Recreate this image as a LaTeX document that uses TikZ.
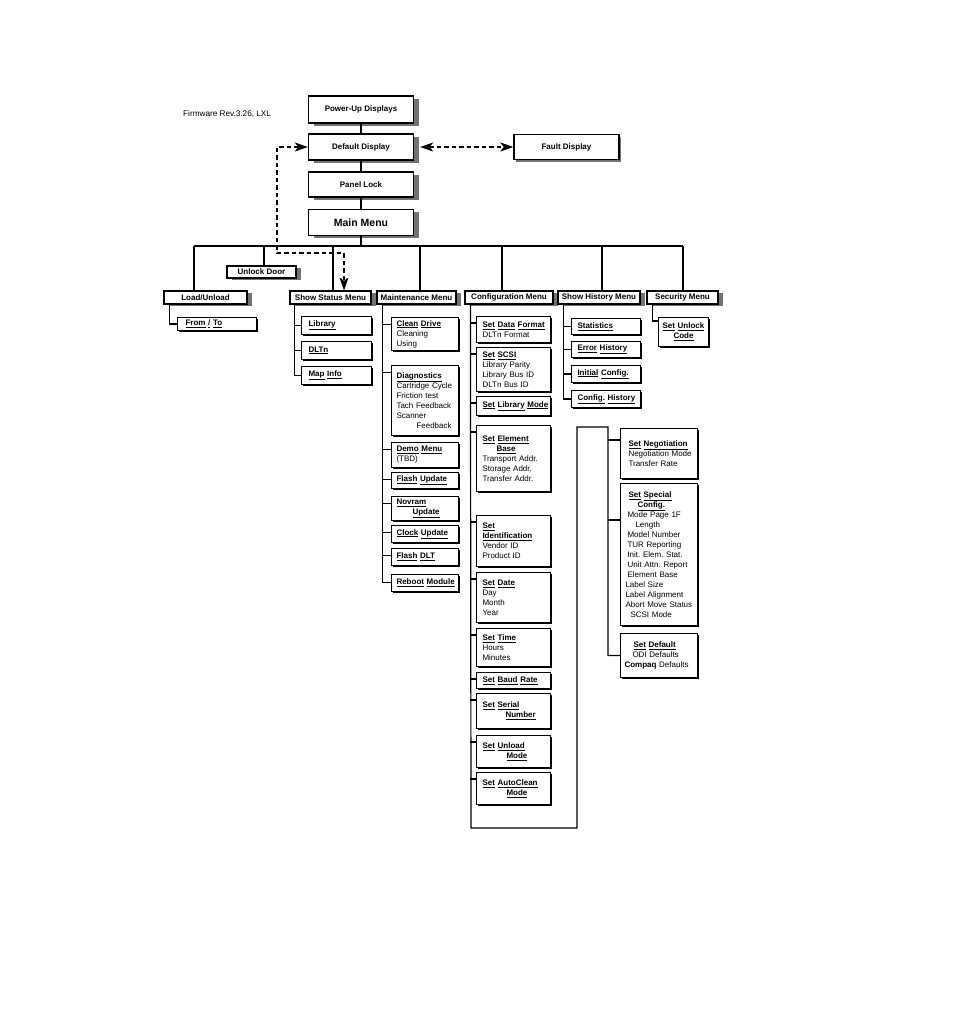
\documentclass[tikz,border=0pt]{standalone}
\usepackage{fontspec}
\setmainfont{Liberation Sans}
\usetikzlibrary{arrows.meta,shadows}
\newcommand{\bu}[1]{\underline{\textbf{#1}}}
\frenchspacing
\tikzset{
  conn/.style={line width=1.2pt},
  darrow/.style={line width=1.1pt, dash pattern=on 4.5pt off 3pt, {Stealth[length=13pt,width=9pt,inset=3.5pt]}-{Stealth[length=13pt,width=9pt,inset=3.5pt]}},
  bigshadow/.style={drop shadow={shadow xshift=5pt,shadow yshift=-2.5pt,fill=black!55,opacity=1}},
  hshadow/.style={drop shadow={shadow xshift=5pt,shadow yshift=-2pt,fill=black!55,opacity=1}},
  tinyshadow/.style={drop shadow={shadow xshift=1pt,shadow yshift=-1pt,fill=black,opacity=1}},
  mbox/.style={draw, fill=white, line width=1.4pt, font=\bfseries\fontsize{8}{9}\selectfont, minimum width=105pt, minimum height=26pt, inner sep=0pt},
  hbox/.style={draw, fill=white, line width=1.2pt, font=\bfseries\fontsize{8}{9}\selectfont, minimum height=13pt, inner sep=0pt, hshadow},
  sbox/.style={draw, fill=white, line width=1pt, font=\fontsize{8}{10}\selectfont, align=left, anchor=north west, inner ysep=0pt, tinyshadow},
  stcol/.style={sbox, text width=56pt, inner xsep=7pt},
  mcol/.style={sbox, text width=57pt, inner xsep=5pt},
  ccol/.style={sbox, text width=62pt, inner xsep=6pt},
  hcol/.style={sbox, text width=57pt, inner xsep=6pt},
  rcol/.style={sbox, text width=69pt, inner xsep=4pt}
}
\begin{document}
\begin{tikzpicture}[x=1pt,y=-1pt]
\useasboundingbox (0,0) rectangle (954,1010);

\node[anchor=west, font=\fontsize{8.2}{9}\selectfont, inner sep=0pt] (fw) at (183,114) {Firmware Rev.3.26, LXL};

% main column
\node[mbox, bigshadow, minimum height=27pt] (pwr) at (361,109.5) {Power-Up Displays};
\node[mbox, bigshadow] (def) at (361,147) {Default Display};
\node[mbox, bigshadow, minimum height=25pt] (panel) at (361,184.5) {Panel Lock};
\node[mbox, bigshadow, font=\bfseries\fontsize{10.5}{12}\selectfont] (mainm) at (361,222.5) {Main Menu};
\node[mbox, minimum width=105pt, minimum height=25pt, drop shadow={shadow xshift=1.5pt,shadow yshift=-2.5pt,fill=black!55,opacity=1}] (fault) at (566.5,147) {Fault Display};

\draw[conn] (pwr.south) -- (def.north);
\draw[conn] (def.south) -- (panel.north);
\draw[conn] (panel.south) -- (mainm.north);

% headers
\node[hbox, minimum width=83pt] (load) at (205.5,297.5) {Load/Unload};
\node[hbox, minimum width=69pt, minimum height=12pt] (unlock) at (261.5,272) {Unlock Door};
\node[hbox, minimum width=81pt] (status) at (330.5,297.5) {Show Status Menu};
\node[hbox, minimum width=79pt] (maint) at (416.5,297.5) {Maintenance Menu};
\node[hbox, minimum width=88pt] (config) at (509,297.5) {Configuration Menu};
\node[hbox, minimum width=82pt] (hist) at (599,297.5) {Show History Menu};
\node[hbox, minimum width=71pt] (secu) at (682.5,297.5) {Security Menu};

% bus
\coordinate (busL) at (194,246);
\coordinate (busR) at (683,246);
\draw[conn] (mainm.south) -- (mainm.south |- busL);
\draw[conn] (busL) -- (busR);
\foreach \x/\n in {194/load, 264/unlock, 333/status, 420/maint, 502/config, 602/hist, 683/secu}{
  \coordinate (tmp) at (\x,246);
  \draw[conn] (tmp) -- (tmp |- \n.north);
}

% dashed arrows
\coordinate (dl) at (277,253);
\draw[darrow] (def.west) -| (dl) -| ([xshift=13.5pt]status.north);
\draw[darrow] ([xshift=6pt]def.east) -- (fault.west);

% Load/Unload
\node[sbox, text width=63pt, inner xsep=8pt, minimum height=13pt] (fromto) at (177,317) {\bu{From} \bu{/} \bu{To}};
\draw[conn] ([xshift=6pt]load.south west) |- (fromto.west);

% Show Status
\node[stcol, minimum height=18pt] (lib) at (301,316) {\bu{Library}};
\node[stcol, minimum height=18pt] (dltn) at (301,341) {\bu{DLTn}};
\node[stcol, minimum height=18pt] (mapi) at (301,366) {\bu{Map}~\bu{Info}};
\coordinate (sv) at ([xshift=5pt]status.south west);
\draw[conn] (sv) |- (mapi.west);
\foreach \n in {lib,dltn}{\draw[conn] (sv |- \n.west) -- (\n.west);}

% Maintenance
\node[mcol, minimum height=33pt] (cln) at (391,317) {\bu{Clean}~\bu{Drive}\\Cleaning\\Using};
\node[mcol, minimum height=70pt] (diag) at (391,365) {\bu{Diagnostics}\\Cartridge~Cycle\\Friction~test\\Tach~Feedback\\Scanner\\\hspace*{20pt}Feedback};
\node[mcol, minimum height=25pt] (demo) at (391,442) {\bu{Demo}~\bu{Menu}\\(TBD)};
\node[mcol, minimum height=16pt] (flu) at (391,472) {\bu{Flash}~\bu{Update}};
\node[mcol, minimum height=24pt] (nov) at (391,496) {\bu{Novram}\\\hspace*{16pt}\bu{Update}};
\node[mcol, minimum height=17pt] (clk) at (391,525) {\bu{Clock}~\bu{Update}};
\node[mcol, minimum height=17pt] (fdlt) at (391,548) {\bu{Flash}~\bu{DLT}};
\node[mcol, minimum height=17pt] (reb) at (391,574) {\bu{Reboot}~\bu{Module}};
\coordinate (mv) at ([xshift=6pt]maint.south west);
\coordinate (mend) at ([yshift=-8.5pt]reb.north west);
\draw[conn] (mv) |- (mend);
\foreach \n in {cln,diag,demo,flu,nov,clk,fdlt}{
  \coordinate (tmp) at ([yshift=-7.5pt]\n.north west);
  \draw[conn] (mv |- tmp) -- (tmp);
}

% Configuration
\node[ccol, minimum height=26pt] (sdf) at (476,316) {\bu{Set}~\bu{Data}~\bu{Format}\\DLTn Format};
\node[ccol, minimum height=44pt] (scsi) at (476,347) {\bu{Set}~\bu{SCSI}\\Library Parity\\Library Bus ID\\DLTn Bus ID};
\node[ccol, minimum height=19pt] (libm) at (476,396) {\bu{Set}~\bu{Library}~\bu{Mode}};
\node[ccol, minimum height=66pt] (elem) at (476,425) {\bu{Set}~\bu{Element}\\\hspace*{14pt}\bu{Base}\\Transport Addr.\\Storage Addr.\\Transfer Addr.};
\node[ccol, minimum height=51pt] (ident) at (476,515) {\bu{Set}\\\bu{Identification}\\Vendor ID\\Product ID};
\node[ccol, minimum height=50pt] (date) at (476,572) {\bu{Set}~\bu{Date}\\Day\\Month\\Year};
\node[ccol, minimum height=38pt] (time) at (476,628) {\bu{Set}~\bu{Time}\\Hours\\Minutes};
\node[ccol, minimum height=16pt] (baud) at (476,672) {\bu{Set}~\bu{Baud}~\bu{Rate}};
\node[ccol, minimum height=35pt] (serial) at (476,693) {\bu{Set}~\bu{Serial}\\\hspace*{23pt}\bu{Number}};
\node[ccol, minimum height=32pt] (unl) at (476,735) {\bu{Set}~\bu{Unload}\\\hspace*{24pt}\bu{Mode}};
\node[ccol, minimum height=32pt] (acl) at (476,772) {\bu{Set}~\bu{AutoClean}\\\hspace*{24pt}\bu{Mode}};

% right sub column
\node[rcol, minimum height=50pt] (neg) at (620,428) {\hspace*{4pt}\bu{Set}~\bu{Negotiation}\\\hspace*{4pt}Negotiation Mode\\\hspace*{4pt}Transfer Rate};
\node[rcol, minimum height=142pt] (special) at (620,483) {\hspace*{4pt}\bu{Set}~\bu{Special}\\\hspace*{13pt}\bu{Config.}\\\hspace*{3pt}Mode Page 1F\\\hspace*{11pt}Length\\\hspace*{3pt}Model Number\\\hspace*{3pt}TUR Reporting\\\hspace*{3pt}Init. Elem. Stat.\\\hspace*{3pt}Unit Attn. Report\\\hspace*{3pt}Element Base\\\hspace*{1pt}Label Size\\\hspace*{1pt}Label Alignment\\\hspace*{1pt}Abort~Move~Status\\\hspace*{6pt}SCSI Mode};
\node[rcol, minimum height=44pt] (setdef) at (620,633) {\hspace*{9pt}\bu{Set}~\bu{Default}\\\hspace*{8pt}ODI Defaults\\\textbf{Compaq} Defaults};

\coordinate (cv) at ([xshift=6pt]config.south west);
\coordinate (cb1) at (471,828);
\coordinate (cb2) at (577,828);
\coordinate (ct1) at (577,427);
\coordinate (ct2) at (608,427);
\draw[conn] (cv) -- (cb1) -- (cb2) -- (ct1) -- (ct2) |- (setdef.west);
\foreach \n in {sdf,scsi,libm,elem,ident,date,time,baud,serial,unl,acl}{
  \coordinate (tmp) at ([yshift=-7pt]\n.north west);
  \draw[conn] (cv |- tmp) -- (tmp);
}
\coordinate (negb) at ([yshift=-12pt]neg.north west);
\draw[conn] (ct2 |- negb) -- (negb);
\coordinate (spb) at ([yshift=-37pt]special.north west);
\draw[conn] (ct2 |- spb) -- (spb);

% Show History
\node[hcol, minimum height=16pt] (stat) at (571,318) {\bu{Statistics}};
\node[hcol, minimum height=16pt] (errh) at (571,341) {\bu{Error}~\bu{History}};
\node[hcol, minimum height=17pt] (inic) at (571,365) {\bu{Initial}~\bu{Config.}};
\node[hcol, minimum height=17pt] (chist) at (571,390) {\bu{Config.}~\bu{History}};
\coordinate (hv) at ([xshift=6pt]hist.south west);
\draw[conn] (hv) |- (chist.west);
\foreach \n in {stat,errh,inic}{\draw[conn] (hv |- \n.west) -- (\n.west);}

% Security
\node[sbox, text width=42pt, inner xsep=4pt, align=center, minimum height=29pt] (ucode) at (658,317) {\bu{Set}~\bu{Unlock}\\\bu{Code}};
\coordinate (scv) at ([xshift=6pt]secu.south west);
\coordinate (uct) at ([yshift=-4pt]ucode.north west);
\draw[conn] (scv) |- (uct);
\end{tikzpicture}
\end{document}
